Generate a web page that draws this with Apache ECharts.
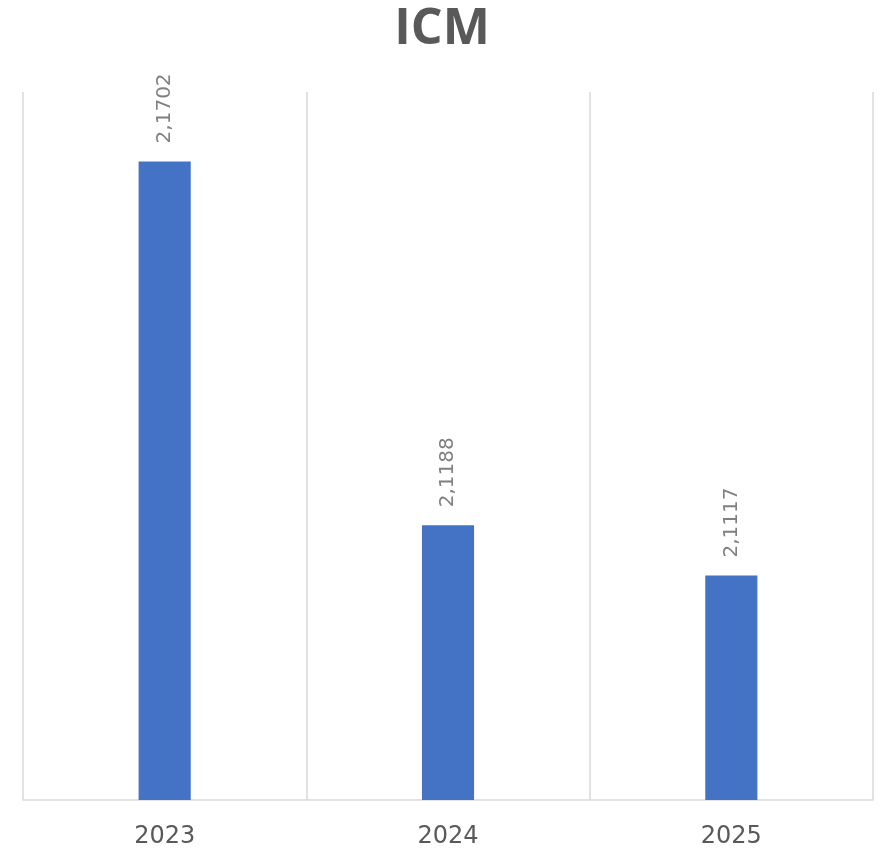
<!DOCTYPE html>
<html>
<head>
<meta charset="utf-8">
<script src="https://cdn.jsdelivr.net/npm/echarts@6/dist/echarts.min.js"></script>
<style>html,body{margin:0;padding:0;background:#fff}#c{width:884px;height:851px}</style>
</head>
<body>
<div id="c"></div>
<script>
const titleText = 'ICM';
const categories = ['2023', '2024', '2025'];
const values = [2.1702, 2.1188, 2.1117];

const chart = echarts.init(document.getElementById('c'), null, {renderer: 'canvas'});
chart.setOption({
  animation: false,
  backgroundColor: '#ffffff',
  title: {
    text: titleText,
    left: 'center',
    top: 0,
    textStyle: {fontFamily: 'Open Sans', fontWeight: 'bold', fontSize: 50, color: '#595959'}
  },
  grid: {left: 23, right: 11, top: 92, bottom: 51, containLabel: false},
  xAxis: {
    type: 'category',
    data: categories,
    axisLine: {lineStyle: {color: '#d9d9d9', width: 1.5}},
    axisTick: {show: false},
    splitLine: {show: true, lineStyle: {color: '#d9d9d9', width: 1.5}},
    axisLabel: {fontFamily: 'DejaVu Sans', fontSize: 24, color: '#595959', margin: 25}
  },
  yAxis: {
    type: 'value',
    show: false,
    min: 2.08,
    max: 2.18,
    splitLine: {show: false}
  },
  series: [{
    type: 'bar',
    data: values,
    barWidth: '18.4%',
    itemStyle: {color: '#4472c4'},
    label: {
      show: true,
      position: 'top',
      rotate: 90,
      align: 'left',
      verticalAlign: 'middle',
      distance: 18,
      fontFamily: 'DejaVu Sans',
      fontSize: 20,
      color: '#808080',
      formatter: p => p.value.toFixed(4).replace('.', ',')
    }
  }]
});
</script>
</body>
</html>
